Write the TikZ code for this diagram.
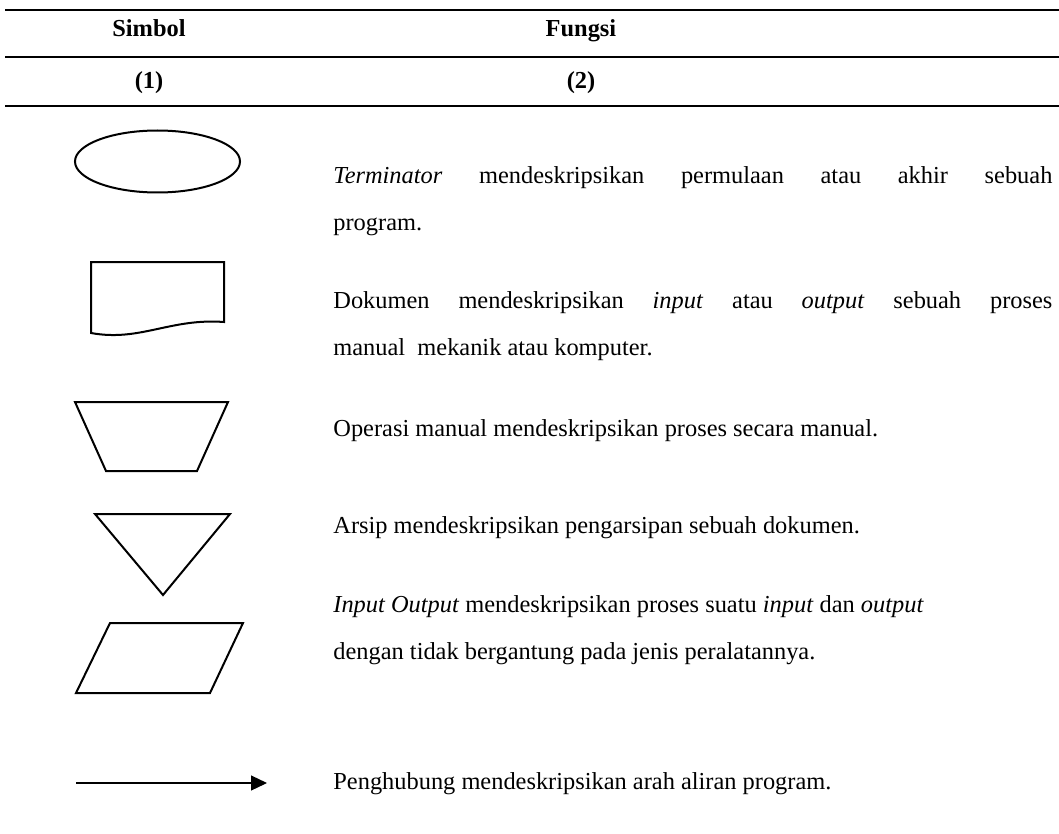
\documentclass[tikz,border=0pt]{standalone}
\usepackage{fontspec}
\setmainfont{Liberation Serif}
\usepackage{tikz}
\usetikzlibrary{arrows.meta, positioning}

\tolerance=10000
\hyphenpenalty=10000

\tikzset{
  garis/.style={line width=1.1pt},
  simbol/.style={draw, line width=1pt, line join=miter},
  judul/.style={anchor=base, inner sep=0pt, font=\fontsize{12.2}{23.5}\selectfont\bfseries},
  teks/.style={anchor=base west, inner sep=0pt, text width=359.5pt, align=justify,
    font=\fontsize{12.2}{23.5}\selectfont}
}

\begin{document}
\begin{tikzpicture}[x=0.5pt, y=-0.5pt]
  \useasboundingbox (0,0) rectangle (1059,834);

  % kepala tabel
  \draw[garis] (5,10) -- (1059,10);
  \draw[garis] (5,57) -- (1059,57);
  \draw[garis] (5,106) -- (1059,106);
  \node[judul] (hSimbol) at (149,37) {Simbol};
  \node[judul] (hFungsi) at (581,37) {Fungsi};
  \node[judul] (nSatu) at (149,89) {(1)};
  \node[judul] (nDua) at (581,89) {(2)};

  % terminator
  \draw[simbol] (157.5,161.5) ellipse [x radius=82.5, y radius=31];
  \node[teks] (tTerm) at (333,184)
    {\textit{Terminator} mendeskripsikan permulaan atau akhir sebuah\linebreak program.};

  % dokumen
  \draw[simbol] (91,333) -- (91,262) -- (224,262) -- (224,322)
    .. controls (170,318) and (140,342) .. cycle;
  \node[teks] (tDok) at (333,308)
    {Dokumen mendeskripsikan \textit{input} atau \textit{output} sebuah proses\linebreak
     manual\ \ mekanik atau komputer.};

  % operasi manual
  \draw[simbol] (75,402) -- (228,402) -- (197,471) -- (106,471) -- cycle;
  \node[teks] (tOps) at (333,436) {Operasi manual mendeskripsikan proses secara manual.};

  % arsip
  \draw[simbol] (95,514) -- (230,514) -- (163,595) -- cycle;
  \node[teks] (tArsip) at (333,533) {Arsip mendeskripsikan pengarsipan sebuah dokumen.};

  % input output
  \draw[simbol] (110,623) -- (243,623) -- (210,693) -- (76,693) -- cycle;
  \node[teks] (tIO) at (333,612)
    {\textit{Input Output} mendeskripsikan proses suatu \textit{input} dan \textit{output}\\
     dengan tidak bergantung pada jenis peralatannya.};

  % penghubung
  \coordinate (panahA) at (76,783);
  \coordinate (panahB) at (267,783);
  \draw[line width=0.6pt, -{Triangle[length=8pt, width=7.5pt]}] (panahA) -- (panahB);
  \node[teks] (tHub) at (333,789) {Penghubung mendeskripsikan arah aliran program.};
\end{tikzpicture}
\end{document}
